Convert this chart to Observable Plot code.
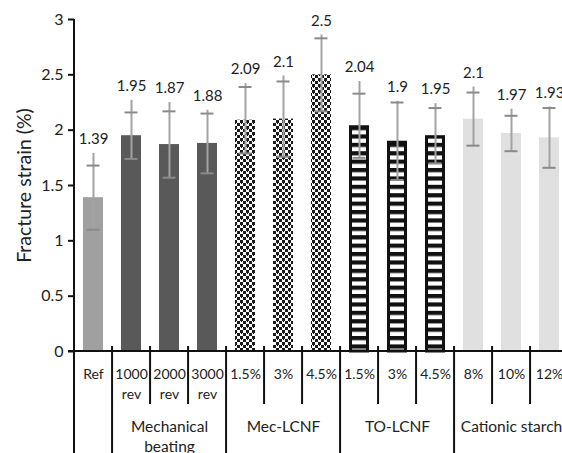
<!DOCTYPE html>
<html><head><meta charset="utf-8">
<script src="https://cdn.jsdelivr.net/npm/d3@7"></script>
<script src="https://cdn.jsdelivr.net/npm/@observablehq/plot@0.6"></script>
<style>
html,body{margin:0;padding:0;background:#fff;overflow:hidden;}
</style></head><body><div id="chart"></div>
<script>
// ---- data ----
const categories = ["Ref","1000 rev","2000 rev","3000 rev","Mec 1.5%","Mec 3%","Mec 4.5%","TO 1.5%","TO 3%","TO 4.5%","CS 8%","CS 10%","CS 12%"];
const tickLabels = ["Ref","1000\nrev","2000\nrev","3000\nrev","1.5%","3%","4.5%","1.5%","3%","4.5%","8%","10%","12%"];
const groupOf = ["Ref","Mechanical beating","Mechanical beating","Mechanical beating","Mec-LCNF","Mec-LCNF","Mec-LCNF","TO-LCNF","TO-LCNF","TO-LCNF","Cationic starch","Cationic starch","Cationic starch"];
const groupLabels = ["Mechanical\nbeating","Mec-LCNF","TO-LCNF","Cationic starch"];
const groupAnchor = ["2000 rev","Mec 3%","TO 3%","CS 10%"];
const values = [1.39,1.95,1.87,1.88,2.09,2.1,2.5,2.04,1.9,1.95,2.1,1.97,1.93];
const sd = [0.29,0.21,0.30,0.27,0.30,0.34,0.33,0.29,0.35,0.25,0.24,0.16,0.27];
const whiskerTop = [1.79,2.27,2.25,2.18,2.42,2.49,2.86,2.44,2.26,2.24,2.39,2.19,2.21];
const yTicks = [0,0.5,1,1.5,2,2.5,3];
const yTitle = "Fracture strain (%)";

// ---- styles ----
const groupFill = {
  "Ref": "#a0a0a0",
  "Mechanical beating": "#595959",
  "Mec-LCNF": "url(#checker)",
  "TO-LCNF": "url(#stripes)",
  "Cationic starch": "#e0e0e0"
};
const padInner = 0.47;

const data = categories.map((c, i) => ({
  cat: c, group: groupOf[i], value: values[i],
  lo: values[i] - sd[i], hi: values[i] + sd[i], top: whiskerTop[i],
  label: String(values[i])
}));

function defsMark() {
  const g = d3.create("svg:g");
  const defs = g.append("defs");
  const ck = defs.append("pattern").attr("id", "checker").attr("patternUnits", "userSpaceOnUse")
    .attr("width", 6).attr("height", 6);
  ck.append("rect").attr("width", 6).attr("height", 6).attr("fill", "#fff");
  ck.append("rect").attr("x", 0).attr("y", 0).attr("width", 3).attr("height", 3).attr("fill", "#1a1a1a");
  ck.append("rect").attr("x", 3).attr("y", 3).attr("width", 3).attr("height", 3).attr("fill", "#1a1a1a");
  ck.append("rect").attr("x", 1).attr("y", 2).attr("width", 1).attr("height", 2).attr("fill", "#1a1a1a");
  ck.append("rect").attr("x", 4).attr("y", 5).attr("width", 1).attr("height", 2).attr("fill", "#1a1a1a");
  const st = defs.append("pattern").attr("id", "stripes").attr("patternUnits", "userSpaceOnUse")
    .attr("width", 8).attr("height", 8.4);
  st.append("rect").attr("width", 8).attr("height", 8.4).attr("fill", "#fff");
  st.append("rect").attr("width", 8).attr("height", 4.2).attr("fill", "#111");
  return g.node();
}

function axisLines(index, scales, values, dims) {
  const x = scales.x, y = scales.y;
  const step = x(categories[1]) - x(categories[0]);
  const gap = step * padInner;
  const y0 = y(0);
  const g = d3.create("svg:g").attr("stroke", "#111").attr("stroke-width", 2).attr("fill", "none");
  categories.forEach((c, i) => {
    if (i === 0) return;
    const bx = x(c) - gap / 2;
    const isGroup = groupOf[i] !== groupOf[i - 1];
    g.append("line").attr("x1", bx).attr("x2", bx).attr("y1", y0 - 5)
      .attr("y2", isGroup ? dims.height : y0 + 53);
  });
  const left = dims.marginLeft;
  g.append("line").attr("x1", left).attr("x2", left).attr("y1", y(3)).attr("y2", dims.height);
  g.append("line").attr("x1", left - 6).attr("x2", dims.width).attr("y1", y0).attr("y2", y0);
  return g.node();
}

const groupsOrder = Object.keys(groupFill);
const barMarks = groupsOrder.map(gname => Plot.barY(data.filter(d => d.group === gname), {
  x: "cat", y: "value", fill: groupFill[gname],
  stroke: gname === "TO-LCNF" ? "#111" : "none",
  strokeWidth: gname === "TO-LCNF" ? 3 : 0,
  insetLeft: gname === "TO-LCNF" ? 1.5 : 0,
  insetRight: gname === "TO-LCNF" ? 1.5 : 0,
  insetTop: gname === "TO-LCNF" ? 1.5 : 0
}));

const chart = Plot.plot({
  width: 562, height: 453,
  marginLeft: 74, marginRight: 0, marginTop: 19, marginBottom: 102,
  style: {fontFamily: "Lato, 'Open Sans', sans-serif", fontSize: "14px", color: "#222", background: "#fff"},
  x: {domain: categories, range: [74, 568], paddingInner: padInner, paddingOuter: padInner / 2, axis: null},
  y: {domain: [0, 3], range: [351, 19], axis: null},
  marks: [
    defsMark,
    ...barMarks,
    Plot.ruleX(data, {x: "cat", y1: "lo", y2: "top", stroke: "#a3a3a3", strokeWidth: 2}),
    Plot.tickY(data, {x: "cat", y: "hi", stroke: "#8a8a8a", strokeWidth: 2, insetLeft: 3.5, insetRight: 3.5}),
    Plot.tickY(data, {x: "cat", y: "lo", stroke: "#8a8a8a", strokeWidth: 2, insetLeft: 3.5, insetRight: 3.5}),
    Plot.text(data, {x: "cat", y: "top", text: "label", dy: -14, fontSize: 15, lineAnchor: "middle", fill: "#222"}),
    Plot.axisY({ticks: yTicks, tickSize: 6, tickPadding: 5, fontSize: 16, strokeWidth: 2, stroke: "#111", label: null, tickFormat: d => String(d)}),
    axisLines,
    Plot.text(categories, {x: d => d, text: (d, i) => tickLabels[i], frameAnchor: "bottom", lineAnchor: "top", dy: 13, fontSize: 14, lineHeight: 1.45, fill: "#222"}),
    Plot.text(groupLabels, {x: (d, i) => groupAnchor[i], text: d => d, frameAnchor: "bottom", lineAnchor: "top", dy: 66, fontSize: 15.5, lineHeight: 1.3, fill: "#222"}),
    Plot.text([yTitle], {text: d => d, frameAnchor: "left", rotate: -90, dx: -50, textAnchor: "middle", lineAnchor: "middle", fontSize: 19.5, fill: "#222"})
  ]
});
document.getElementById("chart").appendChild(chart);
</script>
</body></html>
